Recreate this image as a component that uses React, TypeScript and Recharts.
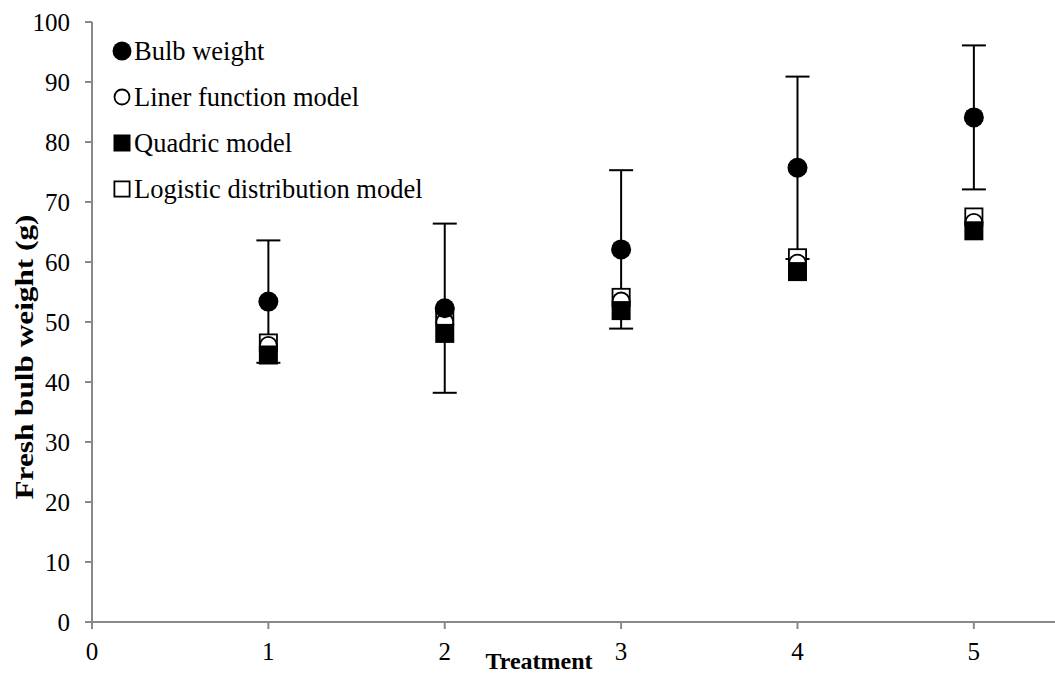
import { ScatterChart, Scatter, XAxis, YAxis, ErrorBar, Legend } from 'recharts';

const treatments = [1, 2, 3, 4, 5];
const bulbWeight = [53.4, 52.3, 62.1, 75.7, 84.1];
const bulbError = [10.2, 14.1, 13.2, 15.2, 12.0];
const linerModel = [46.1, 50.0, 53.5, 59.8, 66.6];
const quadricModel = [44.5, 48.1, 51.9, 58.4, 65.2];
const logisticModel = [46.5, 51.0, 54.1, 60.7, 67.5];

const xTicks = [0, 1, 2, 3, 4, 5];
const yTicks = [0, 10, 20, 30, 40, 50, 60, 70, 80, 90, 100];

const FONT = 'Times New Roman, Liberation Serif, DejaVu Serif, serif';
const AXIS_GREY = '#898989';

const toPoints = (vals: number[], errs?: number[]) =>
  treatments.map((x, i) => ({ x, y: vals[i], err: errs ? errs[i] : 0 }));

type Kind = 'dot' | 'ring' | 'block' | 'box';

const Marker = ({ kind, cx, cy, size }: { kind: Kind; cx: number; cy: number; size: number }) => {
  const h = size / 2;
  if (kind === 'dot') return <circle cx={cx} cy={cy} r={h} fill="#000" />;
  if (kind === 'ring') return <circle cx={cx} cy={cy} r={h - 1} fill="#fff" stroke="#000" strokeWidth={1.8} />;
  if (kind === 'block') return <rect x={cx - h} y={cy - h} width={size} height={size} fill="#000" />;
  return <rect x={cx - h + 0.9} y={cy - h + 0.9} width={size - 1.8} height={size - 1.8} fill="#fff" stroke="#000" strokeWidth={1.8} />;
};

const legendItems: { name: string; kind: Kind }[] = [
  { name: 'Bulb weight', kind: 'dot' },
  { name: 'Liner function model', kind: 'ring' },
  { name: 'Quadric model', kind: 'block' },
  { name: 'Logistic distribution model', kind: 'box' },
];

const LegendBox = () => (
  <div style={{ fontFamily: FONT, fontSize: 26.5, color: '#000' }}>
    {legendItems.map((it) => (
      <div key={it.name} style={{ display: 'flex', alignItems: 'center', height: 46, whiteSpace: 'nowrap' }}>
        <svg width={20} height={20} style={{ marginRight: 2 }}>
          <Marker kind={it.kind} cx={10} cy={10} size={it.kind === 'dot' ? 19 : 17} />
        </svg>
        <span style={{ fontFamily: FONT }}>{it.name}</span>
      </div>
    ))}
  </div>
);

const XLabel = (props: any) => {
  const vb = props.viewBox;
  return (
    <text x={vb.x + 447} y={vb.y + 47} textAnchor="middle" fontFamily={FONT} fontSize={24} fontWeight="bold" fill="#000">
      Treatment
    </text>
  );
};

const YLabel = (props: any) => {
  const vb = props.viewBox;
  const cx = vb.x + 24;
  const cy = vb.y + vb.height / 2 + 35;
  return (
    <text
      x={cx}
      y={cy}
      transform={`rotate(-90, ${cx}, ${cy})`}
      textAnchor="middle"
      dominantBaseline="central"
      fontFamily={FONT}
      fontSize={26}
      fontWeight="bold"
      fill="#000"
      textLength={285}
      lengthAdjust="spacingAndGlyphs"
    >
      Fresh bulb weight (g)
    </text>
  );
};

const App = () => {
  const tickStyle = { fill: '#000', fontSize: 25, fontFamily: FONT };
  const lineStyle = { stroke: AXIS_GREY, strokeWidth: 2 };

  return (
    <div style={{ position: 'absolute', left: 0, top: 0, background: '#fff', fontFamily: FONT }}>
      <ScatterChart width={1055} height={675} margin={{ top: 22, right: 0, bottom: 0, left: 0 }}>
        <XAxis
          type="number"
          dataKey="x"
          domain={[0, 5.46]}
          ticks={xTicks}
          allowDataOverflow
          height={53}
          tickSize={7}
          tickMargin={13}
          tick={tickStyle}
          axisLine={lineStyle}
          tickLine={lineStyle}
          label={XLabel}
        />
        <YAxis
          type="number"
          dataKey="y"
          domain={[0, 100]}
          ticks={yTicks}
          width={92}
          tickSize={7}
          tickMargin={15}
          tick={tickStyle}
          axisLine={lineStyle}
          tickLine={lineStyle}
          label={YLabel}
        />
        <Legend
          layout="vertical"
          align="center"
          verticalAlign="middle"
          wrapperStyle={{ top: 28, left: 112, width: 'auto' }}
          content={() => <LegendBox />}
        />
        <Scatter
          name="Logistic distribution model"
          data={toPoints(logisticModel)}
          isAnimationActive={false}
          shape={(p: any) => <Marker kind="box" cx={p.cx} cy={p.cy} size={19} />}
        />
        <Scatter
          name="Liner function model"
          data={toPoints(linerModel)}
          isAnimationActive={false}
          shape={(p: any) => <Marker kind="ring" cx={p.cx} cy={p.cy} size={19} />}
        />
        <Scatter
          name="Bulb weight"
          data={toPoints(bulbWeight, bulbError)}
          isAnimationActive={false}
          shape={(p: any) => <Marker kind="dot" cx={p.cx} cy={p.cy} size={20} />}
        >
          <ErrorBar dataKey="err" direction="y" width={12} stroke="#000" strokeWidth={2} isAnimationActive={false} />
        </Scatter>
        <Scatter
          name="Quadric model"
          data={toPoints(quadricModel)}
          isAnimationActive={false}
          shape={(p: any) => <Marker kind="block" cx={p.cx} cy={p.cy} size={19} />}
        />
      </ScatterChart>
    </div>
  );
};

export default App;
